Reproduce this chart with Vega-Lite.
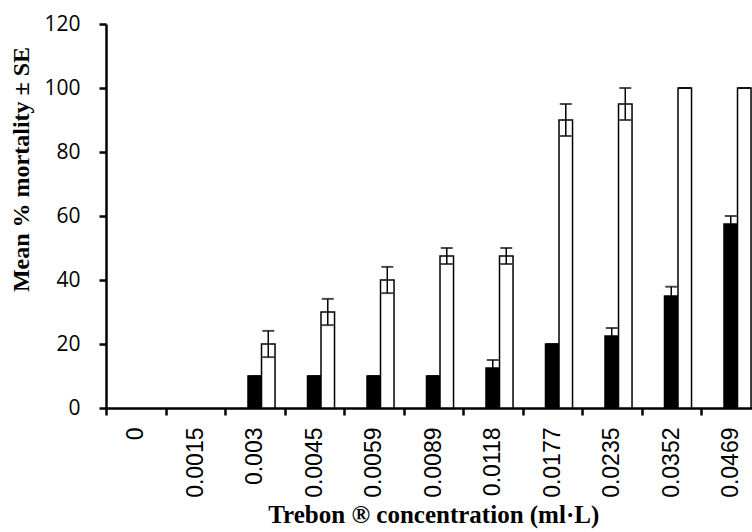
{
  "$schema": "https://vega.github.io/schema/vega-lite/v6.json",
  "width": 646,
  "height": 384,
  "autosize": {"type": "none"},
  "padding": {"left": 106, "top": 24, "right": 0, "bottom": 124},
  "background": "white",
  "config": {"view": {"stroke": null}, "axis": {"grid": false}},
  "data": {
    "values": [
      {"conc": "0", "series": "B", "mean": 0, "lo": 0, "hi": 0, "se": 0},
      {"conc": "0", "series": "C", "mean": 0, "lo": 0, "hi": 0, "se": 0},
      {"conc": "0.0015", "series": "B", "mean": 0, "lo": 0, "hi": 0, "se": 0},
      {"conc": "0.0015", "series": "C", "mean": 0, "lo": 0, "hi": 0, "se": 0},
      {"conc": "0.003", "series": "B", "mean": 10, "lo": 10, "hi": 10, "se": 0},
      {"conc": "0.003", "series": "C", "mean": 20, "lo": 15.9, "hi": 24.1, "se": 4.1},
      {"conc": "0.0045", "series": "B", "mean": 10, "lo": 10, "hi": 10, "se": 0},
      {"conc": "0.0045", "series": "C", "mean": 30, "lo": 25.9, "hi": 34.1, "se": 4.1},
      {"conc": "0.0059", "series": "B", "mean": 10, "lo": 10, "hi": 10, "se": 0},
      {"conc": "0.0059", "series": "C", "mean": 40, "lo": 35.9, "hi": 44.1, "se": 4.1},
      {"conc": "0.0089", "series": "B", "mean": 10, "lo": 10, "hi": 10, "se": 0},
      {"conc": "0.0089", "series": "C", "mean": 47.5, "lo": 45, "hi": 50, "se": 2.5},
      {"conc": "0.0118", "series": "B", "mean": 12.5, "lo": 10, "hi": 15, "se": 2.5},
      {"conc": "0.0118", "series": "C", "mean": 47.5, "lo": 45, "hi": 50, "se": 2.5},
      {"conc": "0.0177", "series": "B", "mean": 20, "lo": 20, "hi": 20, "se": 0},
      {"conc": "0.0177", "series": "C", "mean": 90, "lo": 85, "hi": 95, "se": 5},
      {"conc": "0.0235", "series": "B", "mean": 22.5, "lo": 20, "hi": 25, "se": 2.5},
      {"conc": "0.0235", "series": "C", "mean": 95, "lo": 90, "hi": 100, "se": 5},
      {"conc": "0.0352", "series": "B", "mean": 35, "lo": 32.1, "hi": 37.9, "se": 2.9},
      {"conc": "0.0352", "series": "C", "mean": 100, "lo": 100, "hi": 100, "se": 0},
      {"conc": "0.0469", "series": "B", "mean": 57.5, "lo": 55, "hi": 60, "se": 2.5},
      {"conc": "0.0469", "series": "C", "mean": 100, "lo": 100, "hi": 100, "se": 0}
    ]
  },
  "encoding": {
    "x": {
      "field": "conc",
      "type": "nominal",
      "sort": null,
      "scale": {
        "domain": ["0", "0.0015", "0.003", "0.0045", "0.0059", "0.0089", "0.0118", "0.0177", "0.0235", "0.0352", "0.0469"],
        "range": [0, 654.5],
        "paddingInner": 0,
        "paddingOuter": 0
      },
      "axis": {
        "title": "Trebon ® concentration (ml·L)",
        "titleFont": "Liberation Serif",
        "titleFontSize": 25,
        "titleFontWeight": "bold",
        "titleColor": "black",
        "titlePadding": 5,
        "labelAngle": 270,
        "labelFont": "Liberation Sans",
        "labelFontSize": 23,
        "labelColor": "black",
        "labelPadding": 12,
        "tickBand": "extent",
        "tickSize": 7,
        "tickWidth": 2.5,
        "tickColor": "black",
        "domainColor": "black",
        "domainWidth": 2.5
      }
    },
    "xOffset": {
      "field": "series",
      "type": "nominal",
      "scale": {"domain": ["A", "B", "C"], "paddingInner": 0, "paddingOuter": 0.7}
    }
  },
  "layer": [
    {
      "transform": [{"filter": "datum.mean > 0"}],
      "mark": {"type": "bar", "stroke": "black", "strokeWidth": 1.5},
      "encoding": {
        "y": {
          "field": "mean",
          "type": "quantitative",
          "scale": {"domain": [0, 120]},
          "axis": {
            "title": "Mean % mortality ± SE",
            "titleFont": "Liberation Serif",
            "titleFontSize": 24,
            "titleFontWeight": "bold",
            "titleColor": "black",
            "titlePadding": 10,
            "titleY": 145,
            "values": [0, 20, 40, 60, 80, 100, 120],
            "labelFont": "Open Sans",
            "labelFontSize": 21,
            "labelColor": "black",
            "labelPadding": 19,
            "tickSize": 7,
            "tickWidth": 2.5,
            "tickColor": "black",
            "domainColor": "black",
            "domainWidth": 2.5
          }
        },
        "color": {
          "field": "series",
          "type": "nominal",
          "scale": {"domain": ["B", "C"], "range": ["black", "white"]},
          "legend": null
        }
      }
    },
    {
      "transform": [{"filter": "datum.se > 0"}],
      "mark": {"type": "rule", "color": "black", "strokeWidth": 1.5},
      "encoding": {
        "y": {"field": "lo", "type": "quantitative"},
        "y2": {"field": "hi"}
      }
    },
    {
      "transform": [{"filter": "datum.mean > 0"}],
      "mark": {"type": "tick", "color": "black", "thickness": 2, "size": 12},
      "encoding": {
        "y": {"field": "hi", "type": "quantitative"}
      }
    },
    {
      "transform": [{"filter": "datum.se > 0"}],
      "mark": {"type": "tick", "color": "black", "thickness": 2, "size": 12},
      "encoding": {
        "y": {"field": "lo", "type": "quantitative"}
      }
    }
  ]
}
